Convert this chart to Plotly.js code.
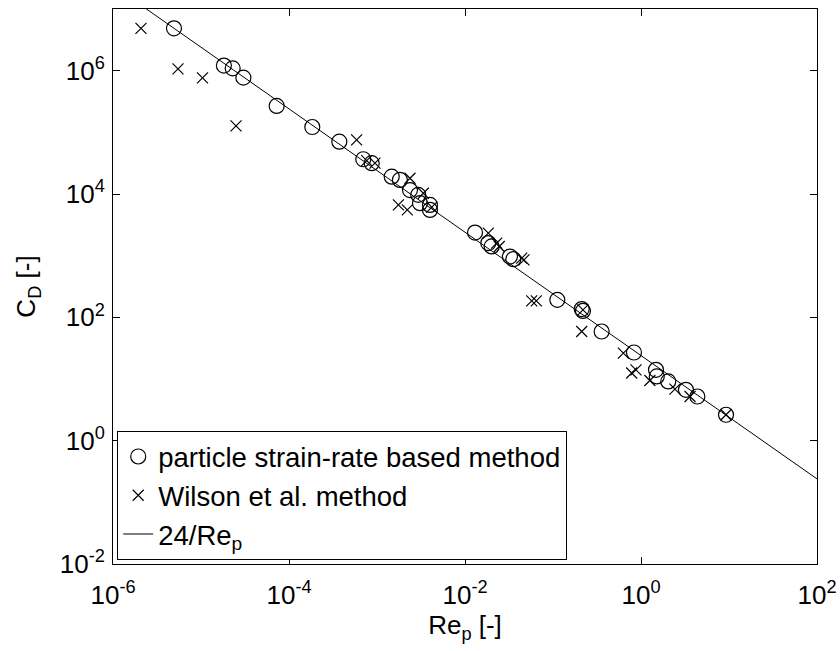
<!DOCTYPE html>
<html>
<head>
<meta charset="utf-8">
<script src="https://cdn.plot.ly/plotly-3.0.1.min.js"></script>
<style>html,body{margin:0;padding:0;background:#fff;}#chart{width:840px;height:651px;}</style>
</head>
<body>
<div id="chart"></div>
<script>
// particle strain-rate based method
const strainRe = [4.93e-6, 1.82e-5, 2.29e-5, 3.03e-5, 7.24e-5, 1.84e-4, 3.73e-4, 6.98e-4, 8.71e-4, 1.47e-3,
  1.82e-3, 2.37e-3, 2.94e-3, 3.08e-3, 4.00e-3, 4.00e-3, 1.30e-2, 1.84e-2, 2.01e-2, 3.24e-2,
  3.54e-2, 0.112, 0.212, 0.219, 0.357, 0.832, 1.48, 1.51, 2.04, 3.24, 4.37, 9.25];
const strainCD = [4.86e6, 1.21e6, 1.09e6, 7.71e5, 2.68e5, 1.22e5, 7.06e4, 3.66e4, 3.16e4, 1.91e4,
  1.69e4, 1.16e4, 9.68e3, 7.10e3, 6.65e3, 5.52e3, 2.37e3, 1.60e3, 1.41e3, 966,
  877, 192, 136, 127, 58.9, 26.9, 14.1, 11.0, 9.12, 6.68, 5.20, 2.63];
// Wilson et al. method
const wilsonRe = [2.08e-6, 5.48e-6, 1.04e-5, 2.50e-5, 5.87e-4, 7.64e-4, 9.48e-4, 2.37e-3, 3.36e-3, 1.75e-3,
  2.21e-3, 4.19e-3, 1.84e-2, 2.29e-2, 2.45e-2, 4.41e-2, 4.68e-2, 5.73e-2, 6.46e-2, 0.212,
  0.219, 0.630, 0.783, 0.877, 1.26, 2.43, 3.61, 9.25];
const wilsonCD = [4.86e6, 1.07e6, 7.62e5, 1.27e5, 7.53e4, 3.48e4, 3.16e4, 1.80e4, 1.03e4, 6.65e3,
  5.52e3, 6.11e3, 2.32e3, 1.60e3, 1.41e3, 910, 855, 185, 185, 58.9,
  132, 26.3, 12.5, 14.1, 9.46, 6.86, 5.20, 2.63];
// 24/Re_p reference line end points
const lineRe = [1e-6, 1e2];
const lineCD = [2.4e7, 0.24];
// tick labels
const xTickVals = [1e-6, 1e-4, 1e-2, 1e0, 1e2];
const xTickText = ['10<sup>-6</sup>', '10<sup>-4</sup>', '10<sup>-2</sup>', '10<sup>0</sup>', '10<sup>2</sup>'];
const yTickVals = [1e-2, 1e0, 1e2, 1e4, 1e6];
const yTickText = ['10<sup>-2</sup>', '10<sup>0</sup>', '10<sup>2</sup>', '10<sup>4</sup>', '10<sup>6</sup>'];

const FONT = 'Arial, "Liberation Sans", sans-serif';

const traces = [
  {x: strainRe, y: strainCD, type: 'scatter', mode: 'markers', name: 'particle strain-rate based method',
   marker: {symbol: 'circle-open', size: 15, color: '#000', line: {width: 1.2, color: '#000'}}, cliponaxis: false},
  {x: wilsonRe, y: wilsonCD, type: 'scatter', mode: 'markers', name: 'Wilson et al. method',
   marker: {symbol: 'x-thin-open', size: 11, color: '#000', line: {width: 1.2, color: '#000'}}, cliponaxis: false},
  {x: lineRe, y: lineCD, type: 'scatter', mode: 'lines', name: '24/Re<sub>p</sub>',
   line: {color: '#000', width: 1}}
];

const axisCommon = {
  type: 'log', showgrid: false, zeroline: false, showline: true, linecolor: '#000', linewidth: 1,
  mirror: 'ticks', ticks: 'inside', ticklen: 7, tickcolor: '#000', tickwidth: 1,
  tickfont: {family: FONT, size: 26, color: '#000'}
};

const layout = {
  width: 840, height: 651,
  margin: {l: 113, r: 23, t: 9, b: 87},
  paper_bgcolor: '#fff', plot_bgcolor: '#fff',
  showlegend: true,
  xaxis: Object.assign({}, axisCommon, {
    range: [-6, 2], tickvals: xTickVals, ticktext: xTickText, ticklabelstandoff: 8,
    title: {text: 'Re<sub>p</sub> [-]', font: {family: FONT, size: 26, color: '#000'}, standoff: 4}
  }),
  yaxis: Object.assign({}, axisCommon, {
    range: [-2, 7], tickvals: yTickVals, ticktext: yTickText, ticklabelstandoff: 2,
    title: {text: 'C<sub>D</sub> [-]', font: {family: FONT, size: 26, color: '#000'}, standoff: 16}
  }),
  legend: {
    x: 0.006, y: 0.007, xanchor: 'left', yanchor: 'bottom',
    bgcolor: '#fff', bordercolor: '#000', borderwidth: 1,
    font: {family: FONT, size: 27.5, color: '#000'},
    itemsizing: 'trace', tracegroupgap: 0
  }
};

Plotly.newPlot('chart', traces, layout, {displayModeBar: false, staticPlot: true});
</script>
</body>
</html>
